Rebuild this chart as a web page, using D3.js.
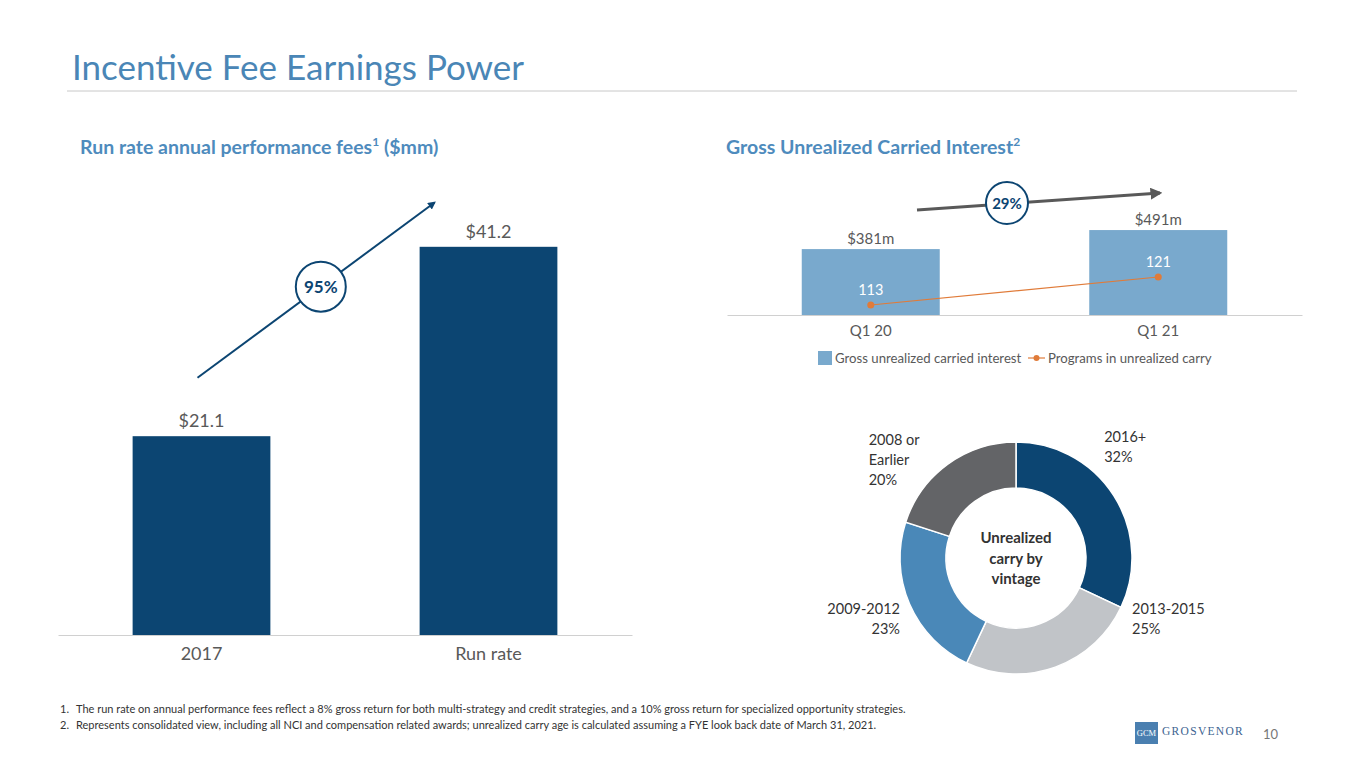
<!DOCTYPE html>
<html>
<head>
<meta charset="utf-8">
<script src="https://cdn.jsdelivr.net/npm/d3@7"></script>
<style>
  body { margin: 0; background: #fff; }
  svg { display: block; font-family: Lato, "Open Sans", sans-serif; }
</style>
</head>
<body>
<div id="chart"></div>
<script>
// data
const feeCategories = ['2017', 'Run rate'];
const feeValues = [21.1, 41.2];
const feeGrowth = '95%';

const carryCategories = ['Q1 20', 'Q1 21'];
const carryValues = [381, 491];
const programCounts = [113, 121];
const carryGrowth = '29%';

const vintageLabels = [['2016+'], ['2013-2015'], ['2009-2012'], ['2008 or', 'Earlier']];
const vintageShares = [32, 25, 23, 20];

const footnotes = [
  'The run rate on annual performance fees reflect a 8% gross return for both multi-strategy and credit strategies, and a 10% gross return for specialized opportunity strategies.',
  'Represents consolidated view, including all NCI and compensation related awards; unrealized carry age is calculated assuming a FYE look back date of March 31, 2021.'
];

const navy = '#0c4572';
const steel = '#4a86b6';
const grey = '#595959';

const svg = d3.select('#chart').append('svg')
  .attr('width', 1365).attr('height', 768);

const defs = svg.append('defs');
function marker(id, color) {
  defs.append('marker')
    .attr('id', id).attr('viewBox', '0 0 10 10')
    .attr('refX', 8).attr('refY', 5)
    .attr('markerWidth', 4).attr('markerHeight', 4)
    .attr('orient', 'auto')
    .append('path').attr('d', 'M0,0 L10,5 L0,10 Z').attr('fill', color);
}
marker('arrowNavy', navy);
marker('arrowGrey', grey);

// title
svg.append('text').attr('x', 72).attr('y', 80)
  .attr('font-size', 35).attr('fill', steel)
  .text('Incentive Fee Earnings Power');
svg.append('line').attr('x1', 67).attr('x2', 1297).attr('y1', 91).attr('y2', 91)
  .attr('stroke', '#c8c8c8').attr('stroke-width', 1);

function subtitle(x, label, sup, tail) {
  const t = svg.append('text').attr('x', x).attr('y', 154)
    .attr('font-size', 19.5).attr('font-weight', 700).attr('fill', '#4e8bbd');
  t.append('tspan').text(label);
  t.append('tspan').attr('dy', -8).attr('font-size', 12).text(sup);
  if (tail) t.append('tspan').attr('dy', 8).text(tail);
}
subtitle(80, 'Run rate annual performance fees', '1', ' ($mm)');
subtitle(726, 'Gross Unrealized Carried Interest', '2', null);

// ---- left bar chart
const xFee = d3.scaleBand().domain(feeCategories).range([58, 632])
  .paddingInner(0.52).paddingOuter(0.26);
const yFee = d3.scaleLinear().domain([0, 45]).range([635, 211]);

const left = svg.append('g');
left.selectAll('rect').data(feeValues).join('rect')
  .attr('x', (d, i) => xFee(feeCategories[i]))
  .attr('y', d => yFee(d))
  .attr('width', xFee.bandwidth())
  .attr('height', d => yFee(0) - yFee(d))
  .attr('fill', navy);
left.selectAll('.val').data(feeValues).join('text')
  .attr('class', 'val')
  .attr('x', (d, i) => xFee(feeCategories[i]) + xFee.bandwidth() / 2)
  .attr('y', d => yFee(d) - 9)
  .attr('text-anchor', 'middle').attr('font-size', 18).attr('fill', grey)
  .text(d => '$' + d.toFixed(1));

const xAxisFee = left.append('g').attr('transform', `translate(0,${yFee(0)})`)
  .call(d3.axisBottom(xFee).tickSize(0).tickPadding(12));
xAxisFee.select('.domain').attr('stroke', '#d0d0d0');
xAxisFee.selectAll('text').attr('font-size', 18).attr('fill', grey)
  .attr('font-family', 'Lato, sans-serif');

// growth arrow
const fx0 = xFee(feeCategories[0]) + xFee.bandwidth() / 2 - 4;
const fx1 = xFee(feeCategories[1]) + 15;
const fy0 = yFee(27.3), fy1 = yFee(45.9);
left.append('line').attr('x1', fx0).attr('y1', fy0).attr('x2', fx1).attr('y2', fy1)
  .attr('stroke', navy).attr('stroke-width', 2).attr('marker-end', 'url(#arrowNavy)');
const fcx = fx0 + (fx1 - fx0) * 0.52, fcy = fy0 + (fy1 - fy0) * 0.52;
left.append('circle').attr('cx', fcx).attr('cy', fcy).attr('r', 25)
  .attr('fill', '#fff').attr('stroke', navy).attr('stroke-width', 2);
left.append('text').attr('x', fcx).attr('y', fcy + 6).attr('text-anchor', 'middle')
  .attr('font-size', 17).attr('font-weight', 700).attr('fill', navy).text(feeGrowth);

// ---- right bar + line chart
const xCarry = d3.scaleBand().domain(carryCategories).range([727, 1302])
  .paddingInner(0.52).paddingOuter(0.26);
const yCarry = d3.scaleLinear().domain([0, 500]).range([315, 228.5]);
const yProg = d3.scaleLinear().domain([105, 125]).range([333, 263]);
const cxMid = d => xCarry(d) + xCarry.bandwidth() / 2;

const right = svg.append('g');
right.selectAll('rect').data(carryValues).join('rect')
  .attr('x', (d, i) => xCarry(carryCategories[i]))
  .attr('y', d => yCarry(d))
  .attr('width', xCarry.bandwidth())
  .attr('height', d => yCarry(0) - yCarry(d))
  .attr('fill', '#79a9cd');
right.selectAll('.val').data(carryValues).join('text')
  .attr('class', 'val')
  .attr('x', (d, i) => cxMid(carryCategories[i]))
  .attr('y', d => yCarry(d) - 5)
  .attr('text-anchor', 'middle').attr('font-size', 15).attr('fill', grey)
  .text(d => '$' + d + 'm');

const xAxisCarry = right.append('g').attr('transform', `translate(0,${yCarry(0)})`)
  .call(d3.axisBottom(xCarry).tickSize(0).tickPadding(10));
xAxisCarry.select('.domain').attr('stroke', '#d0d0d0');
xAxisCarry.selectAll('text').attr('font-size', 15).attr('fill', grey)
  .attr('font-family', 'Lato, sans-serif');

const progLine = d3.line()
  .x((d, i) => cxMid(carryCategories[i]))
  .y(d => yProg(d));
right.append('path').datum(programCounts).attr('d', progLine)
  .attr('fill', 'none').attr('stroke', '#e07b39').attr('stroke-width', 1.2);
right.selectAll('.dot').data(programCounts).join('circle')
  .attr('class', 'dot')
  .attr('cx', (d, i) => cxMid(carryCategories[i]))
  .attr('cy', d => yProg(d)).attr('r', 3.5).attr('fill', '#e07b39');
right.selectAll('.plab').data(programCounts).join('text')
  .attr('class', 'plab')
  .attr('x', (d, i) => cxMid(carryCategories[i]))
  .attr('y', d => yProg(d) - 10)
  .attr('text-anchor', 'middle').attr('font-size', 14.5).attr('fill', '#fff')
  .text(d => d);

// growth arrow
const gx0 = 917, gx1 = 1160;
right.append('line').attr('x1', gx0).attr('y1', 210).attr('x2', gx1).attr('y2', 193)
  .attr('stroke', grey).attr('stroke-width', 3).attr('marker-end', 'url(#arrowGrey)');
right.append('circle').attr('cx', 1007).attr('cy', 203).attr('r', 21)
  .attr('fill', '#fff').attr('stroke', navy).attr('stroke-width', 2);
right.append('text').attr('x', 1007).attr('y', 209).attr('text-anchor', 'middle')
  .attr('font-size', 15).attr('font-weight', 700).attr('fill', navy).text(carryGrowth);

// legend
const lg = svg.append('g').attr('transform', 'translate(818,351)');
lg.append('rect').attr('width', 14).attr('height', 14).attr('fill', '#79a9cd');
lg.append('text').attr('x', 17).attr('y', 12).attr('font-size', 13.2).attr('fill', grey)
  .text('Gross unrealized carried interest');
lg.append('line').attr('x1', 210).attr('x2', 227).attr('y1', 7).attr('y2', 7)
  .attr('stroke', '#e07b39').attr('stroke-width', 1.2);
lg.append('circle').attr('cx', 218.5).attr('cy', 7).attr('r', 3).attr('fill', '#e07b39');
lg.append('text').attr('x', 230).attr('y', 12).attr('font-size', 13.2).attr('fill', grey)
  .text('Programs in unrealized carry');

// ---- donut
const dcx = 1016, dcy = 558, rOut = 116, rIn = 70;
const donutColors = [navy, '#c1c4c8', '#4a88b8', '#636467'];
const pie = d3.pie().sort(null).value(d => d);
const arc = d3.arc().innerRadius(rIn).outerRadius(rOut);
const donut = svg.append('g').attr('transform', `translate(${dcx},${dcy})`);
donut.selectAll('path').data(pie(vintageShares)).join('path')
  .attr('d', arc)
  .attr('fill', (d, i) => donutColors[i])
  .attr('stroke', '#fff').attr('stroke-width', 1.5);

['Unrealized', 'carry by', 'vintage'].forEach((s, i) => {
  donut.append('text').attr('x', 0).attr('y', -15 + i * 20.5)
    .attr('text-anchor', 'middle').attr('font-size', 15).attr('font-weight', 700)
    .attr('fill', '#333').text(s);
});

// label anchors relative to outer radius
const labelSpots = [
  { dx: 0.76, dy: -1.0, anchor: 'start' },
  { dx: 1.0, dy: 0.48, anchor: 'start' },
  { dx: -1.0, dy: 0.48, anchor: 'end' },
  { dx: -1.27, dy: -0.97, anchor: 'start' }
];
vintageLabels.forEach((lines, i) => {
  const s = labelSpots[i];
  const t = donut.append('text')
    .attr('x', s.dx * rOut).attr('y', s.dy * rOut)
    .attr('text-anchor', s.anchor).attr('font-size', 14.5).attr('fill', '#333');
  lines.concat([vintageShares[i] + '%']).forEach((ln, j) => {
    t.append('tspan').attr('x', s.dx * rOut).attr('dy', j ? 20 : 0).text(ln);
  });
});

// footnotes
footnotes.forEach((f, i) => {
  const y = 713 + i * 16;
  svg.append('text').attr('x', 60).attr('y', y).attr('font-size', 11).attr('fill', '#333')
    .text((i + 1) + '.');
  svg.append('text').attr('x', 76).attr('y', y).attr('font-size', 11).attr('fill', '#333')
    .text(f);
});

// logo + page number
svg.append('rect').attr('x', 1135).attr('y', 722).attr('width', 23).attr('height', 22)
  .attr('fill', '#4a7fb0');
svg.append('text').attr('x', 1146.5).attr('y', 736).attr('text-anchor', 'middle')
  .attr('font-family', '"Liberation Serif", serif').attr('font-size', 8.5)
  .attr('fill', '#fff').text('GCM');
svg.append('text').attr('x', 1162).attr('y', 735)
  .attr('font-family', '"Liberation Serif", serif').attr('font-size', 11.5)
  .attr('letter-spacing', 1.3).attr('fill', '#3d6390').text('GROSVENOR');
svg.append('text').attr('x', 1263).attr('y', 739).attr('font-size', 13)
  .attr('fill', '#777').text('10');
</script>
</body>
</html>
